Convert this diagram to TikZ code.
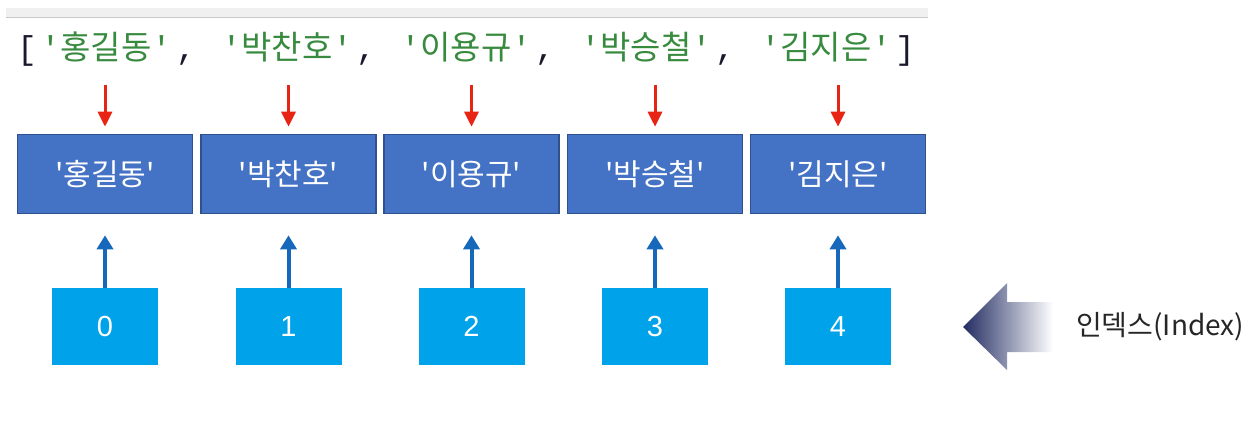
\documentclass[tikz,border=0pt]{standalone}
\usepackage{fontspec}
\setmainfont{Liberation Sans}
\newfontfamily\kr{Noto Sans CJK KR}[Ligatures=TeXOff]
\newfontfamily\codemono{Liberation Mono}[Ligatures=TeXOff]
\usepackage{tikz}
\usetikzlibrary{arrows.meta}
\definecolor{codegreen}{RGB}{55,138,62}
\definecolor{codeink}{RGB}{25,25,45}
\definecolor{valblue}{RGB}{68,114,196}
\definecolor{valedge}{RGB}{47,82,143}
\definecolor{pointred}{RGB}{232,36,20}
\definecolor{upblue}{RGB}{22,104,186}
\definecolor{idxcyan}{RGB}{0,163,234}
\definecolor{navyarrow}{RGB}{34,44,98}

\begin{document}
\begin{tikzpicture}[x=1pt, y=-1pt,
    codetok/.style={inner sep=0pt, anchor=base, font=\fontsize{33}{33}\selectfont},
    valbox/.style={draw=valedge, line width=1.6pt, fill=valblue, text=white,
      minimum width=175pt, minimum height=79pt, inner sep=0pt,
      font=\kr\fontsize{30}{30}\selectfont},
    idxbox/.style={fill=idxcyan, text=white, minimum width=106pt,
      minimum height=77pt, inner sep=0pt, font=\fontsize{29}{29}\selectfont},
    redarrow/.style={-{Triangle[width=14pt,length=15pt]}, line width=3pt,
      pointred},
    bluearrow/.style={-{Triangle[width=16pt,length=14pt]}, line width=4pt,
      upblue}]
  \useasboundingbox (0,0) rectangle (1256,422);

  % editor strip on top
  \fill[black!6] (6,8) rectangle (928,18);
  \draw[black!22, line width=1pt] (6,18) -- (928,18);

  % the list as printed
  \node[codetok, codeink] (lbrack) at (27,60) {\codemono[};
  \node[codetok, codegreen] (str0) at (106,60) {\codemono'\kr 홍길동\codemono'};
  \node[codetok, codeink] (comma0) at (186,60) {\codemono,};
  \node[codetok, codegreen] (str1) at (287,60) {\codemono'\kr 박찬호\codemono'};
  \node[codetok, codeink] (comma1) at (366,60) {\codemono,};
  \node[codetok, codegreen] (str2) at (466,60) {\codemono'\kr 이용규\codemono'};
  \node[codetok, codeink] (comma2) at (545,60) {\codemono,};
  \node[codetok, codegreen] (str3) at (646,60) {\codemono'\kr 박승철\codemono'};
  \node[codetok, codeink] (comma3) at (725,60) {\codemono,};
  \node[codetok, codegreen] (str4) at (826,60) {\codemono'\kr 김지은\codemono'};
  \node[codetok, codeink] (rbrack) at (905,60) {\codemono]};

  % values
  \node[valbox] (val0) at (105,174) {'홍길동'};
  \node[valbox] (val1) at (288.5,174) {'박찬호'};
  \node[valbox] (val2) at (471.5,174) {'이용규'};
  \node[valbox] (val3) at (655,174) {'박승철'};
  \node[valbox] (val4) at (838,174) {'김지은'};

  % indices
  \node[idxbox] (idx0) at (105,326.5) {0};
  \node[idxbox] (idx1) at (288.5,326.5) {1};
  \node[idxbox] (idx2) at (471.5,326.5) {2};
  \node[idxbox] (idx3) at (655,326.5) {3};
  \node[idxbox] (idx4) at (838,326.5) {4};

  % list item -> value
  \draw[redarrow, shorten <=22pt, shorten >=7pt] (str0.south -| val0.north) -- (val0.north);
  \draw[redarrow, shorten <=22pt, shorten >=7pt] (str1.south -| val1.north) -- (val1.north);
  \draw[redarrow, shorten <=22pt, shorten >=7pt] (str2.south -| val2.north) -- (val2.north);
  \draw[redarrow, shorten <=22pt, shorten >=7pt] (str3.south -| val3.north) -- (val3.north);
  \draw[redarrow, shorten <=22pt, shorten >=7pt] (str4.south -| val4.north) -- (val4.north);

  % index -> value
  \draw[bluearrow, shorten >=21pt] (idx0.north) -- (val0.south);
  \draw[bluearrow, shorten >=21pt] (idx1.north) -- (val1.south);
  \draw[bluearrow, shorten >=21pt] (idx2.north) -- (val2.south);
  \draw[bluearrow, shorten >=21pt] (idx3.north) -- (val3.south);
  \draw[bluearrow, shorten >=21pt] (idx4.north) -- (val4.south);

  % fading arrow to the label
  \shade[left color=navyarrow, right color=white]
    (963,327) -- (1007,283) -- (1007,302) -- (1053,302)
    -- (1053,352) -- (1007,352) -- (1007,370) -- cycle;
  \node[anchor=west, inner sep=0pt, text=black!85,
    font=\kr\fontsize{28}{28}\selectfont] (idxlabel) at (1076,327) {인덱스(Index)};
\end{tikzpicture}
\end{document}
